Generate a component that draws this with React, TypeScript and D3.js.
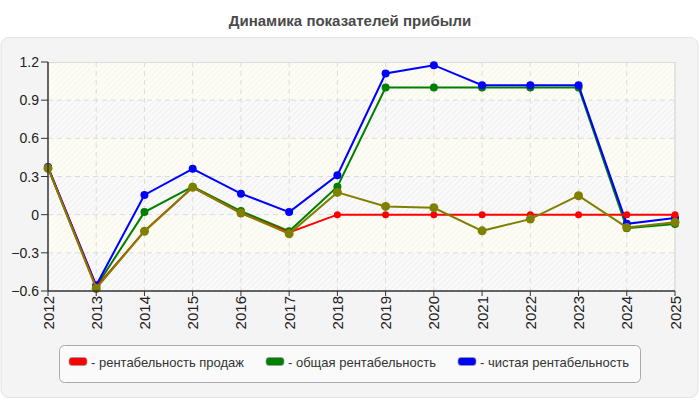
import React from 'react';
import * as d3 from 'd3';

const years = ['2012', '2013', '2014', '2015', '2016', '2017', '2018', '2019', '2020', '2021', '2022', '2023', '2024', '2025'];
const salesProfit = [0.37, -0.57, -0.13, 0.215, 0.013, -0.14, 0, 0, 0, 0, 0, 0, 0, 0];
const totalProfit = [0.37, -0.565, 0.02, 0.22, 0.028, -0.13, 0.22, 1.0, 1.0, 1.0, 1.0, 1.0, -0.106, -0.074];
const netProfit = [0.375, -0.555, 0.155, 0.36, 0.165, 0.02, 0.31, 1.11, 1.175, 1.017, 1.017, 1.017, -0.072, -0.027];
const extraSeries = [0.365, -0.58, -0.13, 0.215, 0.013, -0.15, 0.175, 0.065, 0.054, -0.127, -0.035, 0.149, -0.1, -0.06];
const yTicks = [-0.6, -0.3, 0, 0.3, 0.6, 0.9, 1.2];
const legendItems = [
  { label: '- рентабельность продаж', color: '#ff0000' },
  { label: '- общая рентабельность', color: '#008000' },
  { label: '- чистая рентабельность', color: '#0000ff' },
];

const W = 700;
const H = 400;
const plot = { left: 48, right: 675, top: 62, bottom: 291 };
const font = '"Liberation Sans", Arial, sans-serif';

export default function App() {
  const x = d3.scalePoint<string>().domain(years).range([plot.left, plot.right]);
  const y = d3.scaleLinear().domain([-0.6, 1.2]).range([plot.bottom, plot.top]);
  const line = d3.line<number>()
    .x((_, i) => x(years[i]) as number)
    .y(d => y(d));

  // draw order: green, blue, red, olive
  const series = [
    { values: totalProfit, color: '#008000', r: 4 },
    { values: netProfit, color: '#0000ff', r: 4 },
    { values: salesProfit, color: '#ff0000', r: 3.5 },
    { values: extraSeries, color: '#808000', r: 4.5 },
  ];

  const bands = yTicks.slice(0, -1).map((t, i) => ({ lo: t, hi: yTicks[i + 1], odd: i % 2 === 0 }));
  const legendX = [69, 266, 458];

  return (
    <svg width={W} height={H} style={{ position: 'absolute', left: 0, top: 0 }} fontFamily={font}>
      <defs>
        <pattern id="hatchA" width="4" height="4" patternUnits="userSpaceOnUse" patternTransform="rotate(45)">
          <rect width="4" height="4" fill="#fafafa" />
          <line x1="0" y1="0" x2="0" y2="4" stroke="#ececec" strokeWidth="1.5" />
        </pattern>
        <pattern id="hatchB" width="4" height="4" patternUnits="userSpaceOnUse" patternTransform="rotate(45)">
          <rect width="4" height="4" fill="#fdfdf6" />
          <line x1="0" y1="0" x2="0" y2="4" stroke="#f4f4ea" strokeWidth="1.5" />
        </pattern>
      </defs>
      <rect width={W} height={H} fill="#ffffff" />
      <text x={W / 2} y={26} textAnchor="middle" fontSize={15} fontWeight="bold" fill="#4a4a4a">
        Динамика показателей прибыли
      </text>
      <rect x={1} y={37.5} width={697} height={360} rx={8} fill="#f4f4f4" stroke="#e2e2e2" />

      {bands.map((b, i) => (
        <rect key={i} x={plot.left} y={y(b.hi)} width={plot.right - plot.left} height={y(b.lo) - y(b.hi)}
          fill={b.odd ? 'url(#hatchA)' : 'url(#hatchB)'} />
      ))}

      {yTicks.slice(1, -1).map(t => (
        <line key={t} x1={plot.left} x2={plot.right} y1={y(t)} y2={y(t)} stroke="#dcdcdc" strokeDasharray="5,4" />
      ))}
      {years.slice(1, -1).map(yr => (
        <line key={yr} x1={x(yr)} x2={x(yr)} y1={plot.top} y2={plot.bottom} stroke="#dcdcdc" strokeDasharray="5,4" />
      ))}
      <line x1={plot.left} x2={plot.right} y1={plot.top + 0.5} y2={plot.top + 0.5} stroke="#dcdcdc" />
      <line x1={plot.right} x2={plot.right} y1={plot.top} y2={plot.bottom} stroke="#cfcfcf" />

      {series.map((s, si) => (
        <g key={si}>
          <path d={line(s.values) || ''} fill="none" stroke={s.color} strokeWidth={2} />
          {s.values.map((v, i) => (
            <circle key={i} cx={x(years[i])} cy={y(v)} r={s.r} fill={s.color} />
          ))}
        </g>
      ))}

      <line x1={plot.left} x2={plot.left} y1={plot.top} y2={plot.bottom} stroke="#333" strokeWidth={1.5} />
      <line x1={plot.left} x2={plot.right} y1={plot.bottom} y2={plot.bottom} stroke="#333" strokeWidth={1.5} />
      {yTicks.map(t => (
        <g key={t}>
          <line x1={plot.left - 7} x2={plot.left} y1={y(t)} y2={y(t)} stroke="#333" />
          <text x={plot.left - 9} y={y(t) + 5} textAnchor="end" fontSize={14} fill="#222">
            {t === 0 ? '0' : d3.format('.1f')(t)}
          </text>
        </g>
      ))}
      {years.map(yr => (
        <g key={yr}>
          <line x1={x(yr)} x2={x(yr)} y1={plot.bottom} y2={plot.bottom + 5} stroke="#333" />
          <text transform={`translate(${(x(yr) as number) + 5.5},${plot.bottom + 5}) rotate(-90)`}
            textAnchor="end" fontSize={15} fill="#222">{yr}</text>
        </g>
      ))}

      <rect x={59.5} y={345.5} width={581} height={37} rx={5} fill="#fafafa" stroke="#aaaaaa" />
      {legendItems.map((it, i) => (
        <g key={it.label}>
          <rect x={legendX[i]} y={357.5} width={18} height={8} rx={3} fill={it.color} stroke="#999" strokeWidth={0.7} />
          <text x={legendX[i] + 22} y={366.5} fontSize={13} fill="#333">{it.label}</text>
        </g>
      ))}
    </svg>
  );
}
